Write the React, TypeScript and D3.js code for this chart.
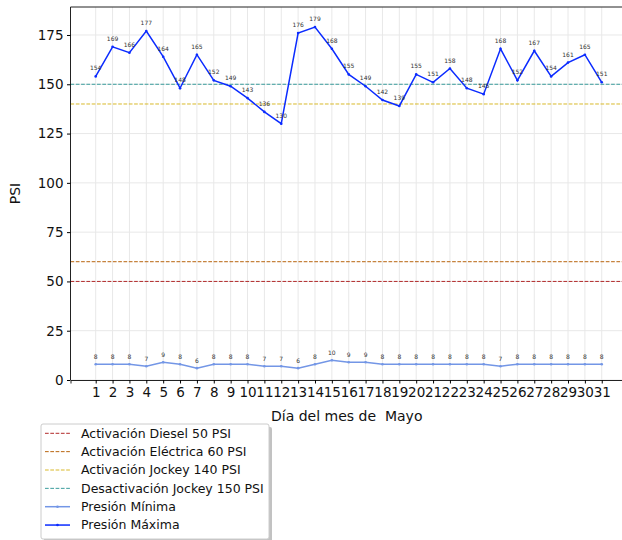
import React, { useEffect, useRef } from 'react';
import * as d3 from 'd3';

const days = d3.range(1, 32);
const presionMaxima = [154, 169, 166, 177, 164, 148, 165, 152, 149, 143, 136, 130, 176, 179, 168, 155, 149, 142, 139, 155, 151, 158, 148, 145, 168, 152, 167, 154, 161, 165, 151];
const presionMinima = [8, 8, 8, 7, 9, 8, 6, 8, 8, 8, 7, 7, 6, 8, 10, 9, 9, 8, 8, 8, 8, 8, 8, 8, 7, 8, 8, 8, 8, 8, 8];
const yTicks = [0, 25, 50, 75, 100, 125, 150, 175];

const umbrales = [
  { label: 'Activación Diesel 50 PSI', value: 50, color: '#b22a2a' },
  { label: 'Activación Eléctrica 60 PSI', value: 60, color: '#b8650f' },
  { label: 'Activación Jockey 140 PSI', value: 140, color: '#d9b92a' },
  { label: 'Desactivación Jockey 150 PSI', value: 150, color: '#3a9c9c' },
];

const FONT = 'DejaVu Sans, sans-serif';

function App() {
  const svgRef = useRef<SVGSVGElement>(null);

  useEffect(() => {
    const svg = d3.select(svgRef.current);
    svg.selectAll('*').remove();

    const left = 70.5, right = 623, top = 7, bottom = 380;
    const x = d3.scaleLinear().domain([-0.494, 32.26]).range([left, right]);
    const y = d3.scaleLinear().domain([0, 189.2]).range([bottom, top]);

    svg.append('rect').attr('width', 622).attr('height', 540).attr('fill', '#fff');

    // grid
    const grid = svg.append('g');
    grid.selectAll('.vg').data(days).enter().append('line')
      .attr('x1', d => x(d)).attr('x2', d => x(d))
      .attr('y1', top).attr('y2', bottom)
      .attr('stroke', '#e8e8e8').attr('stroke-width', 1);
    grid.selectAll('.hg').data(yTicks).enter().append('line')
      .attr('x1', left).attr('x2', right)
      .attr('y1', d => y(d)).attr('y2', d => y(d))
      .attr('stroke', '#e8e8e8').attr('stroke-width', 1);

    // threshold lines
    svg.append('g').selectAll('line').data(umbrales).enter().append('line')
      .attr('x1', left).attr('x2', right)
      .attr('y1', d => y(d.value)).attr('y2', d => y(d.value))
      .attr('stroke', d => d.color).attr('stroke-width', 1)
      .attr('stroke-dasharray', '3.7,1.6');

    const line = d3.line<number>().x((_, i) => x(days[i])).y(d => y(d));

    const series = [
      { data: presionMinima, color: '#7396e6', off: 5 },
      { data: presionMaxima, color: '#0b2bff', off: 6 },
    ];
    series.forEach(s => {
      svg.append('path').datum(s.data)
        .attr('d', line)
        .attr('fill', 'none')
        .attr('stroke', s.color)
        .attr('stroke-width', 1.5);
      svg.append('g').selectAll('circle').data(s.data).enter().append('circle')
        .attr('cx', (_, i) => x(days[i])).attr('cy', d => y(d))
        .attr('r', 1.3).attr('fill', s.color);
      svg.append('g').selectAll('text').data(s.data).enter().append('text')
        .attr('x', (_, i) => x(days[i])).attr('y', d => y(d) - s.off)
        .attr('text-anchor', 'middle')
        .attr('font-family', FONT).attr('font-size', 6)
        .attr('fill', '#333')
        .text(d => d);
    });

    // spines
    svg.append('line').attr('x1', left).attr('x2', left).attr('y1', top).attr('y2', bottom)
      .attr('stroke', '#222').attr('stroke-width', 1);
    svg.append('line').attr('x1', left).attr('x2', right).attr('y1', top).attr('y2', top)
      .attr('stroke', '#222').attr('stroke-width', 1);

    // axes
    const xAxis = svg.append('g').attr('transform', `translate(0,${bottom})`)
      .call(d3.axisBottom(x).tickValues(days).tickFormat(d3.format('d')).tickSizeOuter(0).tickSize(3.5).tickPadding(3.5));
    xAxis.select('.domain').attr('stroke', '#222');
    xAxis.selectAll('text').attr('font-family', FONT).attr('font-size', 13.5).attr('fill', '#111');

    const yAxis = svg.append('g').attr('transform', `translate(${left},0)`)
      .call(d3.axisLeft(y).tickValues(yTicks).tickSizeOuter(0).tickSize(3.5).tickPadding(3.5));
    yAxis.select('.domain').remove();
    yAxis.selectAll('text').attr('font-family', FONT).attr('font-size', 13.5).attr('fill', '#111');

    svg.append('text')
      .attr('transform', `translate(20,${(top + bottom) / 2}) rotate(-90)`)
      .attr('text-anchor', 'middle')
      .attr('font-family', FONT).attr('font-size', 14).attr('fill', '#111')
      .text('PSI');
    svg.append('text')
      .attr('x', (left + right) / 2).attr('y', 421)
      .attr('text-anchor', 'middle')
      .attr('font-family', FONT).attr('font-size', 14).attr('fill', '#111')
      .style('white-space', 'pre')
      .text('Día del mes de  Mayo');

    // legend
    const lg = svg.append('g').attr('transform', 'translate(41,424)');
    lg.append('rect').attr('x', 3).attr('y', 3).attr('width', 228).attr('height', 115)
      .attr('rx', 2).attr('fill', '#999').attr('opacity', 0.6);
    lg.append('rect').attr('width', 228).attr('height', 115)
      .attr('rx', 2).attr('fill', '#fff').attr('stroke', '#ccc');
    const items = [
      ...umbrales.map(u => ({ label: u.label, color: u.color, dash: '3.7,1.6', marker: false, w: 1 })),
      { label: 'Presión Mínima', color: '#7396e6', dash: null, marker: true, w: 1.5 },
      { label: 'Presión Máxima', color: '#0b2bff', dash: null, marker: true, w: 1.5 },
    ];
    const row = lg.selectAll('.item').data(items).enter().append('g')
      .attr('transform', (_, i) => `translate(0,${9.3 + i * 18.35})`);
    row.append('line').attr('x1', 4).attr('x2', 29).attr('y1', 0).attr('y2', 0)
      .attr('stroke', d => d.color).attr('stroke-width', d => d.w)
      .attr('stroke-dasharray', d => d.dash);
    row.filter(d => d.marker).append('circle').attr('cx', 16.5).attr('cy', 0).attr('r', 1.3)
      .attr('fill', d => d.color);
    row.append('text').attr('x', 40).attr('y', 0).attr('dy', '0.35em')
      .attr('font-family', FONT).attr('font-size', 12.5).attr('fill', '#111')
      .text(d => d.label);
  }, []);

  return (
    <svg ref={svgRef} width={622} height={540}
      style={{ position: 'absolute', left: 0, top: 0, display: 'block' }} />
  );
}

export default App;
